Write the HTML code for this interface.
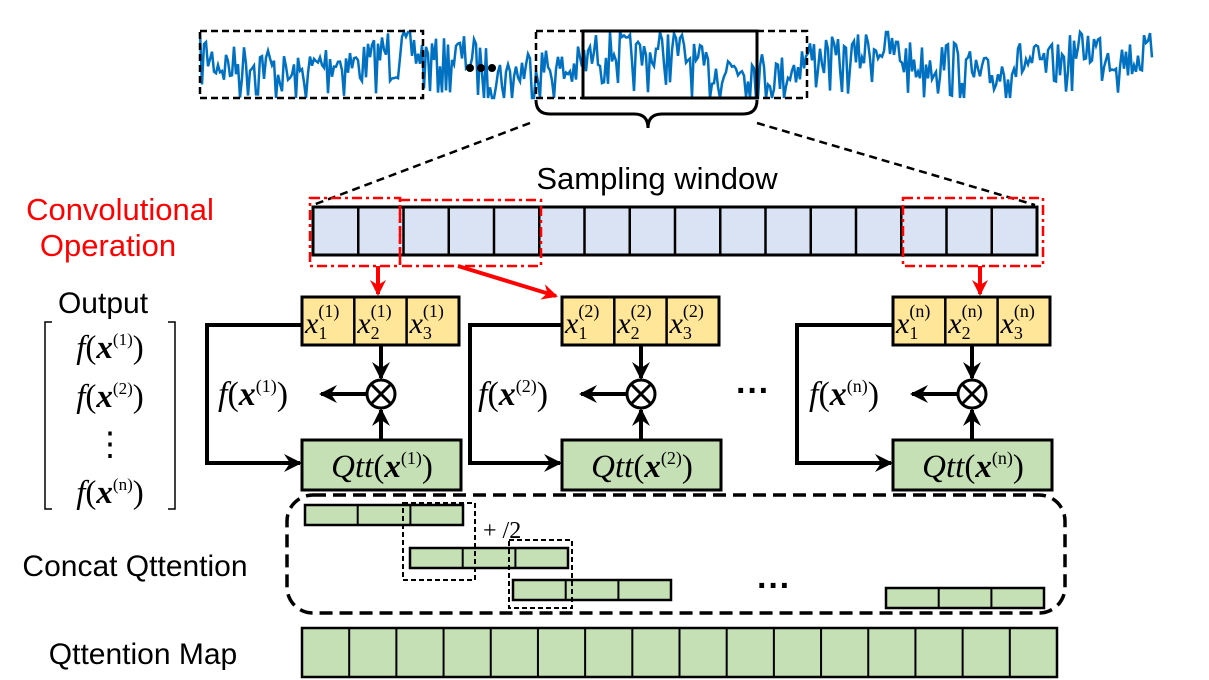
<!DOCTYPE html>
<html><head><meta charset="utf-8"><style>
body{margin:0;background:#fff;width:1209px;height:680px;overflow:hidden}
svg{display:block}
.s{font-family:"Liberation Sans",sans-serif}
.m{font-family:"Liberation Serif",serif}
</style></head><body>
<svg width="1209" height="680" viewBox="0 0 1209 680" xmlns="http://www.w3.org/2000/svg">
<defs>
<marker id="ab2" markerWidth="18" markerHeight="18" refX="16" refY="9" orient="auto" markerUnits="userSpaceOnUse"><path d="M0,0 L18,9 L0,18 L6,9z" fill="#000"/></marker>
<marker id="ar" markerWidth="16" markerHeight="16" refX="14" refY="8" orient="auto" markerUnits="userSpaceOnUse"><path d="M0,0 L16,8 L0,16 L5,8z" fill="#f00"/></marker>
</defs>
<polyline id="sig" fill="none" stroke="#0070c0" stroke-width="2.5" points=""/>
<g fill="none" stroke="#000" stroke-width="2.5">
<rect x="200" y="31" width="223" height="67" stroke-dasharray="7,4"/>
<rect x="536" y="31" width="47" height="67" stroke-dasharray="7,4"/>
<rect x="583" y="31" width="174" height="67" stroke-width="3"/>
<path d="M757,31 H807 V98 H757" stroke-dasharray="7,4"/>
<path d="M536,100 q0,14 14,14 H634 q14,0 14,14 q0,-14 14,-14 H743 q14,0 14,-14" stroke-width="3"/>
<line x1="530" y1="123" x2="313" y2="205" stroke-dasharray="8,5"/>
<line x1="757" y1="123" x2="1035" y2="205" stroke-dasharray="8,5"/>
</g>
<circle cx="470" cy="68" r="4"/><circle cx="481" cy="68" r="4"/><circle cx="492" cy="68" r="4"/>
<text x="657" y="189" class="s" font-size="31" text-anchor="middle">Sampling window</text>
<text x="120" y="220" class="s" font-size="31" fill="#f00" text-anchor="middle">Convolutional</text>
<text x="108" y="256" class="s" font-size="31" fill="#f00" text-anchor="middle">Operation</text>
<g id="row"></g>
<g fill="none" stroke="#f00" stroke-width="2.5" stroke-dasharray="10,4,3,4">
<rect x="310" y="198" width="90" height="68"/>
<rect x="400" y="200" width="141" height="66"/>
<rect x="903" y="198" width="140" height="68"/>
</g>
<g stroke="#f00" stroke-width="4">
<line x1="378" y1="266" x2="378" y2="294" marker-end="url(#ar)"/>
<line x1="458" y1="266" x2="556" y2="296" marker-end="url(#ar)"/>
<line x1="980" y1="266" x2="980" y2="294" marker-end="url(#ar)"/>
</g>
<g id="grp"></g>
<text x="736" y="402" font-size="34" font-weight="bold" class="s">···</text>
<text x="103" y="313" class="s" font-size="30" text-anchor="middle">Output</text>
<path d="M52,322 H45 V509 H52 M168,322 H175 V509 H168" fill="none" stroke="#000" stroke-width="1.5"/>
<g class="m" font-size="33" text-anchor="middle">
<text x="110" y="358"><tspan font-style="italic">f</tspan>(<tspan font-weight="bold" font-style="italic">x</tspan><tspan font-size="17" dy="-13">(1)</tspan><tspan dy="13">)</tspan></text>
<text x="110" y="407"><tspan font-style="italic">f</tspan>(<tspan font-weight="bold" font-style="italic">x</tspan><tspan font-size="17" dy="-13">(2)</tspan><tspan dy="13">)</tspan></text>
<text x="110" y="455">⋮</text>
<text x="110" y="503"><tspan font-style="italic">f</tspan>(<tspan font-weight="bold" font-style="italic">x</tspan><tspan font-size="17" dy="-13">(n)</tspan><tspan dy="13">)</tspan></text>
</g>
<text x="135" y="576" class="s" font-size="30" text-anchor="middle">Concat Qttention</text>
<rect x="287" y="495" width="778" height="118" rx="26" fill="none" stroke="#000" stroke-width="3.5" stroke-dasharray="13,7"/>
<g id="bars"></g>
<g fill="none" stroke="#000" stroke-width="2" stroke-dasharray="5,3">
<rect x="403" y="503" width="72" height="77"/>
<rect x="509" y="540" width="63" height="68"/>
</g>
<text x="483" y="538" class="m" font-size="24">+ /2</text>
<text x="757" y="597" font-size="34" font-weight="bold" class="s">···</text>
<text x="143" y="664" class="s" font-size="30" text-anchor="middle">Qttention Map</text>
<g id="map"></g>
</svg>
<script>
var NS="http://www.w3.org/2000/svg";
function el(p,t,a,txt){var e=document.createElementNS(NS,t);for(var k in a)e.setAttribute(k,a[k]);if(txt!=null)e.innerHTML=txt;p.appendChild(e);return e;}
var seed=7;function rnd(){seed=(seed*16807)%2147483647;return seed/2147483647;}
var pts=[];for(var x=200;x<=1152;x+=2){var b=62+10*Math.sin(x/37)+6*Math.sin(x/11);var r=rnd()-0.5;var y=b+r*44+(r>0.38?14:0);y=Math.max(32,Math.min(98,y));pts.push(x+","+y.toFixed(1));}
document.getElementById("sig").setAttribute("points",pts.join(" "));
var row=document.getElementById("row");
el(row,"rect",{x:313,y:207,width:724,height:48,fill:"#dae3f3",stroke:"#000","stroke-width":3});
for(var i=1;i<16;i++){var xx=313+i*724/16;el(row,"line",{x1:xx,y1:207,x2:xx,y2:255,stroke:"#000","stroke-width":2.5});}
var g=document.getElementById("grp");
var G=[[302,"1",207],[562,"2",470],[893,"n",797]];
G.forEach(function(a){var x0=a[0],s=a[1],L=a[2];
 el(g,"rect",{x:x0,y:297,width:157,height:48,fill:"#ffe699",stroke:"#000","stroke-width":3});
 for(var j=1;j<3;j++)el(g,"line",{x1:x0+j*52.3,y1:297,x2:x0+j*52.3,y2:345,stroke:"#000","stroke-width":2.5});
 for(var j=0;j<3;j++)el(g,"text",{x:x0+3+j*52.3,y:333,"class":"m","font-size":30,"font-style":"italic"},"x<tspan font-size='18' font-style='normal' dy='6'>"+(j+1)+"</tspan><tspan font-size='18' font-style='normal' dx='-9' dy='-22'>("+s+")</tspan>");
 el(g,"rect",{x:x0,y:440,width:159,height:50,fill:"#c5e0b4",stroke:"#000","stroke-width":3});
 el(g,"text",{x:x0+80,y:477,"class":"m","font-size":33,"text-anchor":"middle"},"<tspan font-style='italic'>Qtt</tspan>(<tspan font-weight='bold' font-style='italic'>x</tspan><tspan font-size='18' dy='-13'>("+s+")</tspan><tspan dy='13'>)</tspan>");
 var cx=x0+79;
 el(g,"line",{x1:cx,y1:345,x2:cx,y2:378,stroke:"#000","stroke-width":4,"marker-end":"url(#ab2)"});
 el(g,"line",{x1:cx,y1:440,x2:cx,y2:410,stroke:"#000","stroke-width":4,"marker-end":"url(#ab2)"});
 el(g,"circle",{cx:cx,cy:394,r:14,fill:"#fff",stroke:"#000","stroke-width":3});
 el(g,"path",{d:"M"+(cx-10)+",384 l20,20 M"+(cx+10)+",384 l-20,20",stroke:"#000","stroke-width":3});
 el(g,"line",{x1:cx-14,y1:394,x2:cx-60,y2:394,stroke:"#000","stroke-width":4,"marker-end":"url(#ab2)"});
 el(g,"text",{x:cx-163,y:405,"class":"m","font-size":34},"<tspan font-style='italic'>f</tspan>(<tspan font-weight='bold' font-style='italic'>x</tspan><tspan font-size='18' dy='-13'>("+s+")</tspan><tspan dy='13'>)</tspan>");
 el(g,"path",{d:"M"+x0+",325 H"+L+" V463 H"+(x0-2),fill:"none",stroke:"#000","stroke-width":4,"marker-end":"url(#ab2)"});
});
var bb=document.getElementById("bars");
[[305,505],[410,548],[513,580],[886,588]].forEach(function(a){
 el(bb,"rect",{x:a[0],y:a[1],width:158,height:20,fill:"#c5e0b4",stroke:"#000","stroke-width":2.5});
 for(var j=1;j<3;j++)el(bb,"line",{x1:a[0]+j*52.7,y1:a[1],x2:a[0]+j*52.7,y2:a[1]+20,stroke:"#000","stroke-width":2});
});
var mp=document.getElementById("map");
el(mp,"rect",{x:302,y:628,width:755,height:49,fill:"#c5e0b4",stroke:"#000","stroke-width":2.5});
for(var i=1;i<16;i++){var xx=302+i*755/16;el(mp,"line",{x1:xx,y1:628,x2:xx,y2:677,stroke:"#000","stroke-width":2});}
</script>
</body></html>
